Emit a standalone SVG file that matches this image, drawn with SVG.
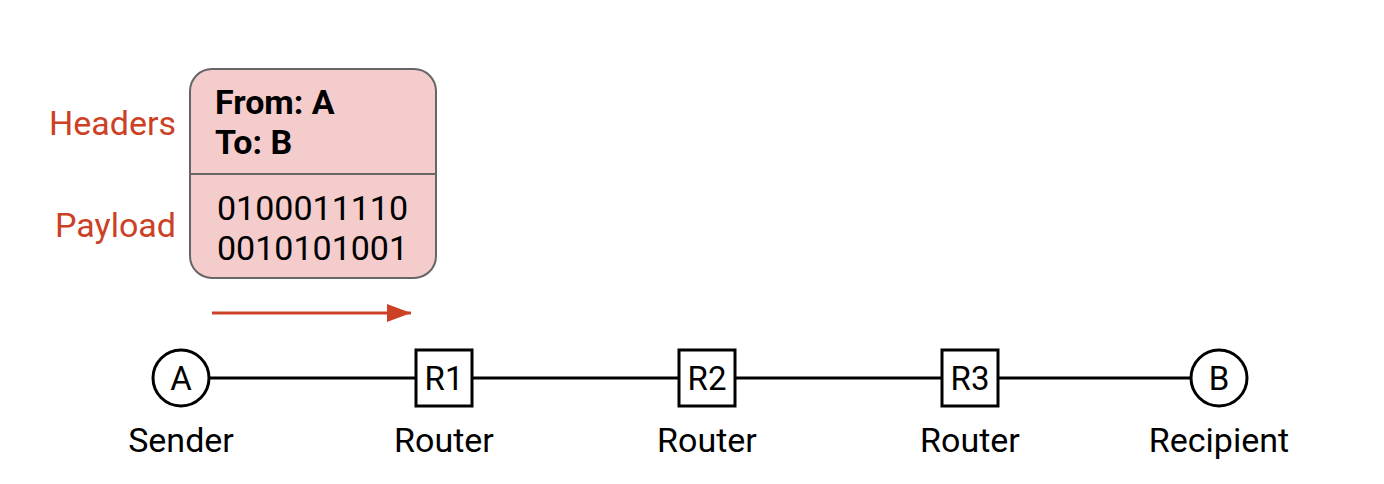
<svg xmlns="http://www.w3.org/2000/svg" width="1384" height="484" viewBox="0 0 1384 484">
<style>
text{font-family:Roboto,"Liberation Sans",sans-serif;fill:#000}
.lbl{font-size:34px;text-anchor:middle}
.nt{font-size:33px;text-anchor:middle}
.red{fill:#cc4125;font-size:34px;text-anchor:end}
.pk{font-size:34px}
.node{fill:#fff;stroke:#000;stroke-width:3}
</style>
<defs>
<marker id="ah" markerWidth="24" markerHeight="18" refX="24" refY="9" orient="auto" markerUnits="userSpaceOnUse">
<path d="M0,0 L24,9 L0,18 Z" fill="#cc4125"/>
</marker>
</defs>
<rect width="1384" height="484" fill="#fff"/>
<g id="packet">
<rect x="190" y="69" width="246" height="209" rx="22" fill="#f4cccc" stroke="#666" stroke-width="2"/>
<line x1="190" y1="174" x2="436" y2="174" stroke="#666" stroke-width="2"/>
<text class="pk" x="215" y="114" font-weight="bold">From: A</text>
<text class="pk" x="215" y="154" font-weight="bold">To: B</text>
<text class="pk" x="217" y="220">0100011110</text>
<text class="pk" x="217" y="260">0010101001</text>
<text class="red" x="176" y="135">Headers</text>
<text class="red" x="176" y="237">Payload</text>
</g>
<g id="connectors">
<line x1="209" y1="378" x2="1191" y2="378" stroke="#000" stroke-width="3"/>
<line x1="212" y1="313" x2="411" y2="313" stroke="#cc4125" stroke-width="3" marker-end="url(#ah)"/>
</g>
<g id="nodeA">
<circle class="node" cx="181" cy="378" r="28"/>
<text class="nt" x="181" y="390">A</text>
<text class="lbl" x="181" y="452">Sender</text>
</g>
<g id="nodeR1">
<rect class="node" x="416" y="350" width="56" height="56"/>
<text class="nt" x="444" y="390">R1</text>
<text class="lbl" x="444" y="452">Router</text>
</g>
<g id="nodeR2">
<rect class="node" x="679" y="350" width="56" height="56"/>
<text class="nt" x="707" y="390">R2</text>
<text class="lbl" x="707" y="452">Router</text>
</g>
<g id="nodeR3">
<rect class="node" x="942" y="350" width="56" height="56"/>
<text class="nt" x="970" y="390">R3</text>
<text class="lbl" x="970" y="452">Router</text>
</g>
<g id="nodeB">
<circle class="node" cx="1219" cy="378" r="28"/>
<text class="nt" x="1219" y="390">B</text>
<text class="lbl" x="1219" y="452">Recipient</text>
</g>
</svg>
